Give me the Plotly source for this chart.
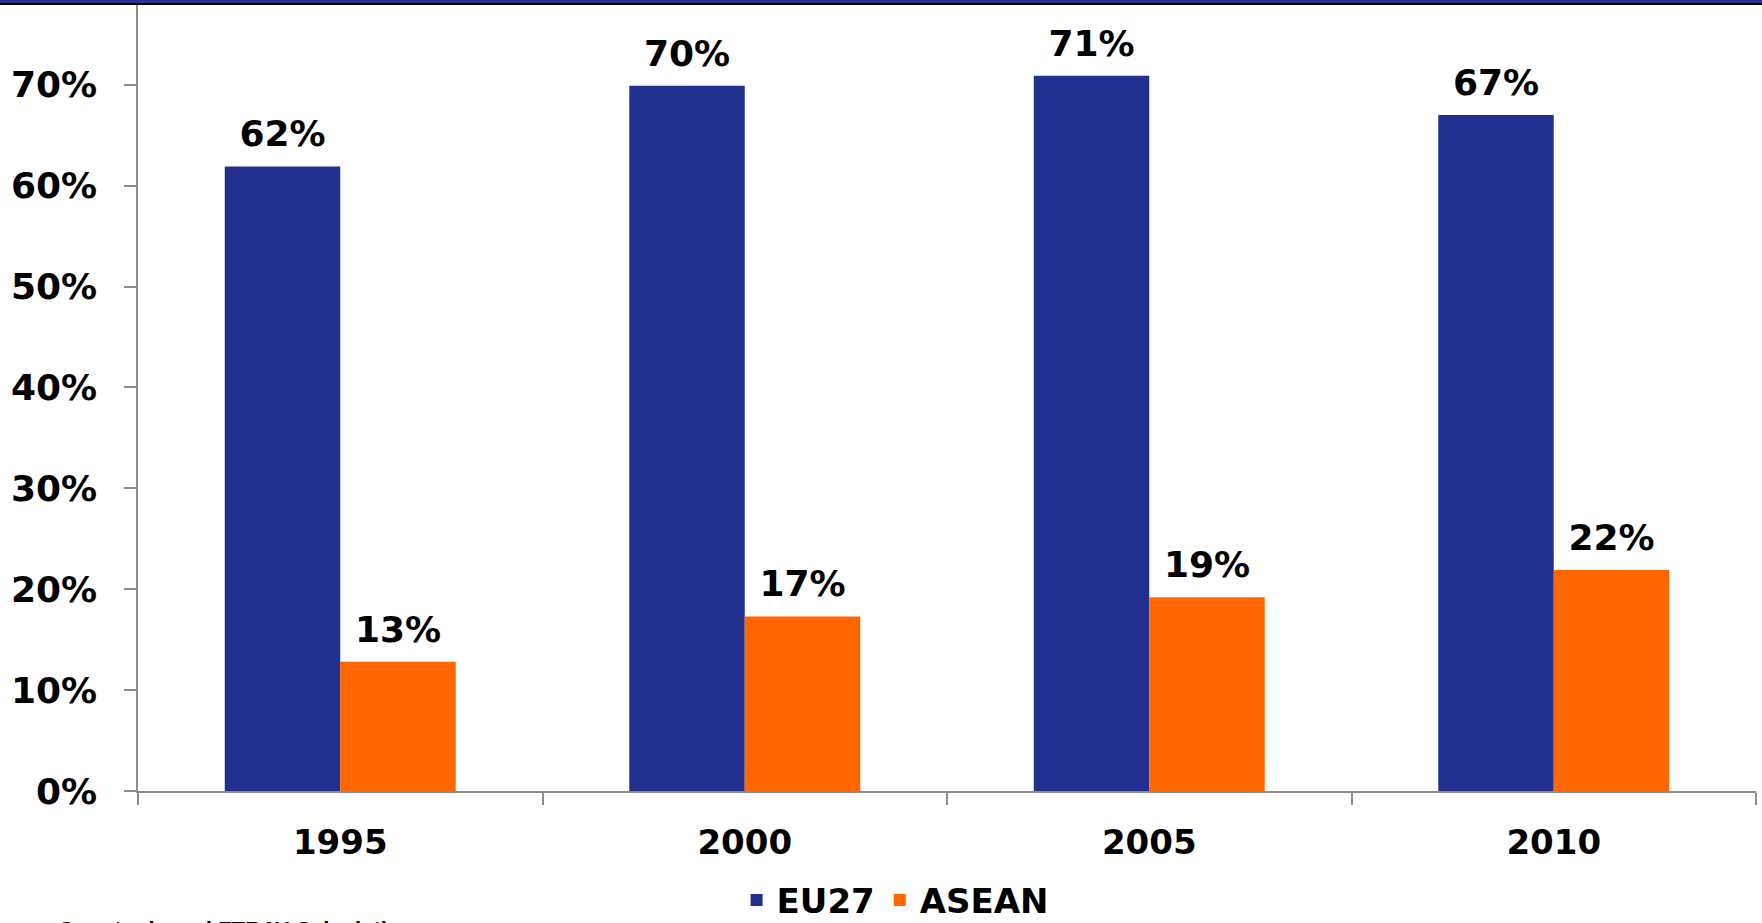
import plotly.graph_objects as go

years = ["1995", "2000", "2005", "2010"]
eu27 = [0.619, 0.699, 0.709, 0.670]
asean = [0.128, 0.173, 0.192, 0.219]
series_names = ["EU27", "ASEAN"]
colors = ["#21308F", "#FF6600"]
source_text = "Country based FTRAY Calculation"

FONT = "Verdana, DejaVu Sans, sans-serif"

fig = go.Figure()
for name, vals, col in zip(series_names, [eu27, asean], colors):
    fig.add_trace(go.Bar(
        x=years, y=vals, name=name, offsetgroup=name,
        marker=dict(color=col, line=dict(width=0)),
        hoverinfo="x+y+name",
    ))
for name, vals in zip(series_names, [eu27, asean]):
    fig.add_trace(go.Scatter(
        x=years, y=vals, offsetgroup=name, mode="markers+text",
        marker=dict(size=16, opacity=0),
        text=[f"{v:.0%}" for v in vals], textposition="top center",
        textfont=dict(family=FONT, size=36, color="black", weight="bold"),
        showlegend=False, hoverinfo="skip", cliponaxis=False,
    ))

fig.update_layout(
    width=1762, height=923,
    margin=dict(l=138, r=6, t=5, b=132),
    paper_bgcolor="white", plot_bgcolor="white",
    barmode="group", bargap=0.429, bargroupgap=0,
    scattermode="group", scattergap=0.429,
    showlegend=True,
    legend=dict(
        orientation="h", xref="container", yref="container",
        x=0.508, xanchor="center", y=0.056, yanchor="top",
        font=dict(family=FONT, size=34, color="black", weight="bold"),
        traceorder="normal",
    ),
    xaxis=dict(
        type="category", tickson="boundaries", ticks="outside", ticklen=12,
        tickcolor="#8C8C8C", tickwidth=1.5,
        showline=True, linecolor="#8C8C8C", linewidth=1.5,
        showgrid=False, ticklabelstandoff=20,
        tickfont=dict(family=FONT, size=34, color="black", weight="bold"),
    ),
    yaxis=dict(
        range=[0, 0.779], dtick=0.1, tickformat=".0%",
        ticks="outside", ticklen=12, tickcolor="#8C8C8C", tickwidth=1.5,
        showline=True, linecolor="#8C8C8C", linewidth=1.5,
        showgrid=False, zeroline=False, ticklabelstandoff=20,
        tickfont=dict(family=FONT, size=36, color="black", weight="bold"),
    ),
    shapes=[
        dict(type="rect", xref="paper", yref="paper", x0=-0.2, x1=1.2,
             y0=1.0, y1=1.0 + 5 / 786.3, fillcolor="black", line=dict(width=0)),
        dict(type="rect", xref="paper", yref="paper", x0=-0.2, x1=1.2,
             y0=1.0 + 2 / 786.3, y1=1.0 + 6 / 786.3, fillcolor="#2E3192", line=dict(width=0)),
    ],
    annotations=[
        dict(text=source_text, xref="paper", yref="paper", x=-0.0507, y=-0.158,
             xanchor="left", yanchor="top", showarrow=False,
             font=dict(family="Liberation Sans, Arial", size=22, color="black", weight="bold")),
    ],
)

fig.write_html("out.html")
